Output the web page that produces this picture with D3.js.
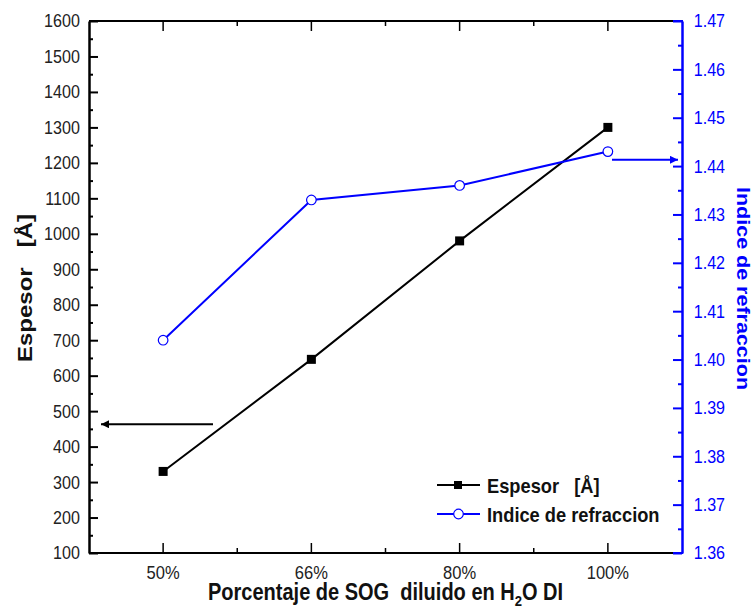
<!DOCTYPE html>
<html>
<head>
<meta charset="utf-8">
<script src="https://cdn.jsdelivr.net/npm/d3@7"></script>
<style>
  body { margin: 0; background: #fff; }
  text { font-family: "Liberation Sans", Arial, sans-serif; }
</style>
</head>
<body>
<div id="container"></div>
<script>
// data
var categories = ["50%", "66%", "80%", "100%"];
var espesor = [330, 646, 980, 1300];
var indice = [1.404, 1.433, 1.436, 1.443];
var leftTicks = [100, 200, 300, 400, 500, 600, 700, 800, 900, 1000, 1100, 1200, 1300, 1400, 1500, 1600];
var rightTicks = [1.36, 1.37, 1.38, 1.39, 1.40, 1.41, 1.42, 1.43, 1.44, 1.45, 1.46, 1.47];

var width = 755, height = 610;
var pLeft = 89, pRight = 682, pTop = 21, pBottom = 553;
var blue = "#0000ff";
var squash = 0.87; // the original text looks horizontally squeezed

var svg = d3.select("#container").append("svg")
    .attr("width", width)
    .attr("height", height);

var x = d3.scalePoint().domain(categories).range([pLeft, pRight]).padding(0.5);
var y = d3.scaleLinear().domain([100, 1600]).range([pBottom, pTop]);
var y2 = d3.scaleLinear().domain([1.36, 1.47]).range([pBottom, pTop]);

// minor tick positions between categories
var step = x.step();
var minorX = categories.slice(0, 3).map(function(c) { return x(c) + step / 2; });

// frame: top and bottom lines
svg.append("line").attr("x1", pLeft).attr("x2", pRight).attr("y1", pTop).attr("y2", pTop)
    .attr("stroke", "#000").attr("stroke-width", 2);
svg.append("line").attr("x1", pLeft).attr("x2", pRight).attr("y1", pBottom).attr("y2", pBottom)
    .attr("stroke", "#000").attr("stroke-width", 2);

// bottom ticks (inward)
svg.selectAll(".xt").data(categories).enter().append("line")
    .attr("x1", function(d) { return x(d); }).attr("x2", function(d) { return x(d); })
    .attr("y1", pBottom).attr("y2", pBottom - 10)
    .attr("stroke", "#000").attr("stroke-width", 1.5);
svg.selectAll(".xm").data(minorX).enter().append("line")
    .attr("x1", function(d) { return d; }).attr("x2", function(d) { return d; })
    .attr("y1", pBottom).attr("y2", pBottom - 5)
    .attr("stroke", "#000").attr("stroke-width", 1.5);
// top ticks
svg.selectAll(".xtt").data(categories).enter().append("line")
    .attr("x1", function(d) { return x(d); }).attr("x2", function(d) { return x(d); })
    .attr("y1", pTop).attr("y2", pTop + 10)
    .attr("stroke", "#000").attr("stroke-width", 1.5);
svg.selectAll(".xmt").data(minorX).enter().append("line")
    .attr("x1", function(d) { return d; }).attr("x2", function(d) { return d; })
    .attr("y1", pTop).attr("y2", pTop + 5)
    .attr("stroke", "#000").attr("stroke-width", 1.5);

// x labels
svg.selectAll(".xl").data(categories).enter().append("text")
    .attr("transform", function(d) { return "translate(" + x(d) + ",579) scale(" + squash + ",1)"; })
    .attr("text-anchor", "middle")
    .style("font-size", "19px")
    .attr("fill", "#222")
    .text(function(d) { return d; });

// left axis
var leftAxis = svg.append("g")
    .attr("transform", "translate(" + pLeft + ",0)")
    .call(d3.axisLeft(y).tickValues(leftTicks).tickSize(-9).tickPadding(10.5).tickSizeOuter(0)
        .tickFormat(d3.format("d")));
leftAxis.select(".domain").attr("stroke-width", 2.5);
leftAxis.selectAll(".tick line").attr("stroke-width", 2);
leftAxis.selectAll(".tick text").style("font-size", "18.5px").attr("fill", "#222")
    .attr("transform", "scale(" + squash + ",1)");
svg.append("g")
    .attr("transform", "translate(" + pLeft + ",0)")
    .call(d3.axisLeft(y).tickValues(leftTicks.slice(0, -1).map(function(d) { return d + 50; }))
        .tickSize(-4).tickFormat("").tickSizeOuter(0))
    .call(function(g) { g.select(".domain").remove(); })
    .selectAll(".tick line").attr("stroke-width", 2);

// right axis (blue)
var rightAxis = svg.append("g")
    .attr("transform", "translate(" + pRight + ",0)")
    .call(d3.axisRight(y2).tickValues(rightTicks).tickSize(-9).tickPadding(13.5).tickSizeOuter(0)
        .tickFormat(d3.format(".2f")));
rightAxis.select(".domain").attr("stroke", blue).attr("stroke-width", 2.5);
rightAxis.selectAll(".tick line").attr("stroke", blue).attr("stroke-width", 2);
rightAxis.selectAll(".tick text").style("font-size", "18.5px").attr("fill", blue)
    .attr("transform", "scale(" + squash + ",1)");
svg.append("g")
    .attr("transform", "translate(" + pRight + ",0)")
    .call(d3.axisRight(y2).tickValues(rightTicks.slice(0, -1).map(function(d) { return d + 0.005; }))
        .tickSize(-4).tickFormat("").tickSizeOuter(0))
    .call(function(g) { g.select(".domain").remove(); })
    .selectAll(".tick line").attr("stroke", blue).attr("stroke-width", 2);
// blue end bits of top and bottom lines
svg.append("line").attr("x1", pRight - 9).attr("x2", pRight + 1).attr("y1", pTop).attr("y2", pTop)
    .attr("stroke", blue).attr("stroke-width", 2);
svg.append("line").attr("x1", pRight - 9).attr("x2", pRight + 1).attr("y1", pBottom).attr("y2", pBottom)
    .attr("stroke", blue).attr("stroke-width", 2);

// lines
var lineE = d3.line()
    .x(function(d, i) { return x(categories[i]); })
    .y(function(d) { return y(d); });
var lineI = d3.line()
    .x(function(d, i) { return x(categories[i]); })
    .y(function(d) { return y2(d); });

svg.append("path").datum(espesor).attr("d", lineE)
    .attr("fill", "none").attr("stroke", "#000").attr("stroke-width", 2);
svg.append("path").datum(indice).attr("d", lineI)
    .attr("fill", "none").attr("stroke", blue).attr("stroke-width", 2);

svg.selectAll(".sq").data(espesor).enter().append("rect")
    .attr("x", function(d, i) { return x(categories[i]) - 4.5; })
    .attr("y", function(d) { return y(d) - 4.5; })
    .attr("width", 9).attr("height", 9)
    .attr("fill", "#000");
svg.selectAll(".ci").data(indice).enter().append("circle")
    .attr("cx", function(d, i) { return x(categories[i]); })
    .attr("cy", function(d) { return y2(d); })
    .attr("r", 4.8)
    .attr("fill", "#fff").attr("stroke", blue).attr("stroke-width", 1.2);

// arrows
var defs = svg.append("defs");
[["ahK", "#000"], ["ahB", blue]].forEach(function(a) {
  defs.append("marker").attr("id", a[0])
      .attr("viewBox", "0 0 10 10").attr("refX", 10).attr("refY", 5)
      .attr("markerWidth", 6).attr("markerHeight", 4).attr("orient", "auto")
      .attr("markerUnits", "strokeWidth")
    .append("path").attr("d", "M0,0 L10,5 L0,10 z").attr("fill", a[1]);
});
svg.append("line").attr("x1", 213).attr("x2", 101).attr("y1", y(463)).attr("y2", y(463))
    .attr("stroke", "#000").attr("stroke-width", 2).attr("marker-end", "url(#ahK)");
svg.append("line").attr("x1", 612).attr("x2", 678).attr("y1", y2(1.4413)).attr("y2", y2(1.4413))
    .attr("stroke", blue).attr("stroke-width", 2).attr("marker-end", "url(#ahB)");

// legend
var legend = [
  { label: "Espesor   [Å]", color: "#000", sym: "sq" },
  { label: "Indice de refraccion", color: blue, sym: "ci" }
];
var lg = svg.selectAll(".lg").data(legend).enter().append("g")
    .attr("transform", function(d, i) { return "translate(437," + (485 + i * 29) + ")"; });
lg.append("line").attr("x1", 0).attr("x2", 43).attr("y1", 0).attr("y2", 0)
    .attr("stroke", function(d) { return d.color; }).attr("stroke-width", 2);
lg.each(function(d) {
  var g = d3.select(this);
  if (d.sym === "sq") {
    g.append("rect").attr("x", 17).attr("y", -4).attr("width", 8).attr("height", 8).attr("fill", "#000");
  } else {
    g.append("circle").attr("cx", 21.5).attr("cy", 0).attr("r", 4.8)
        .attr("fill", "#fff").attr("stroke", blue).attr("stroke-width", 1.2);
  }
});
lg.append("text")
    .attr("transform", "translate(50,8) scale(" + squash + ",1)")
    .style("font-size", "21px").style("font-weight", "bold").style("white-space", "pre")
    .attr("fill", "#111")
    .text(function(d) { return d.label; });

// axis titles
svg.append("text")
    .attr("transform", "translate(32,362) rotate(-90) scale(1," + squash + ")")
    .attr("text-anchor", "start")
    .style("font-size", "24px").style("font-weight", "bold").style("white-space", "pre")
    .attr("fill", "#111")
    .text("Espesor   [Å]");

svg.append("text")
    .attr("transform", "translate(737,187) rotate(90) scale(1," + squash + ")")
    .attr("text-anchor", "start")
    .style("font-size", "21.5px").style("font-weight", "bold")
    .attr("fill", blue)
    .text("Indice de refraccion");

var xt = svg.append("text")
    .attr("transform", "translate(208,600) scale(" + squash + ",1)")
    .style("font-size", "23px").style("font-weight", "bold").style("white-space", "pre")
    .attr("fill", "#111");
xt.append("tspan").text("Porcentaje de SOG  diluido en H");
xt.append("tspan").attr("dy", 6).style("font-size", "15px").text("2");
xt.append("tspan").attr("dy", -6).text("O DI");
</script>
</body>
</html>
